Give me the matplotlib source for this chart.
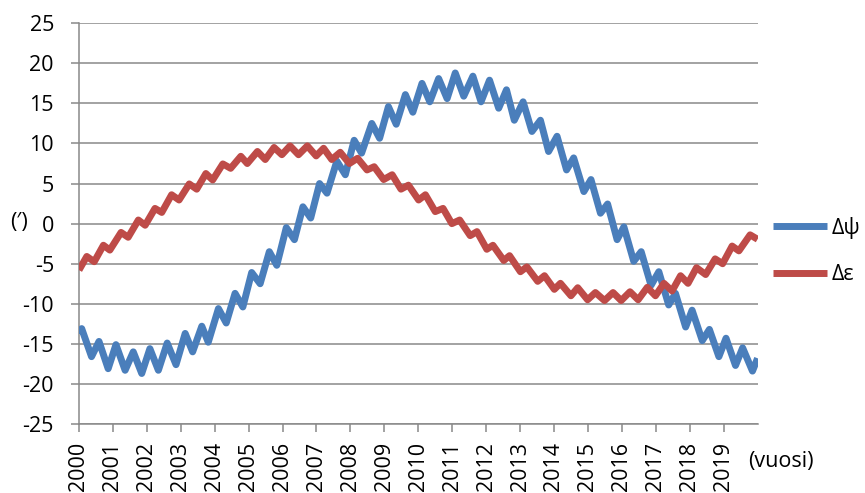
import matplotlib.pyplot as plt

# nutation in longitude (dpsi) and obliquity (deps), peaks and troughs per half year
psi_years = [2000.00, 2000.08, 2000.37, 2000.59, 2000.86, 2001.09, 2001.36, 2001.60, 2001.85,
             2002.09, 2002.34, 2002.60, 2002.86, 2003.13, 2003.35, 2003.62, 2003.81, 2004.11,
             2004.34, 2004.60, 2004.83, 2005.09, 2005.34, 2005.61, 2005.83, 2006.11, 2006.35,
             2006.60, 2006.83, 2007.09, 2007.31, 2007.60, 2007.85, 2008.11, 2008.33, 2008.63,
             2008.86, 2009.12, 2009.35, 2009.62, 2009.84, 2010.11, 2010.34, 2010.60, 2010.85,
             2011.09, 2011.34, 2011.61, 2011.85, 2012.10, 2012.37, 2012.60, 2012.83, 2013.09,
             2013.35, 2013.60, 2013.84, 2014.09, 2014.37, 2014.58, 2014.88, 2015.09, 2015.37,
             2015.58, 2015.86, 2016.06, 2016.35, 2016.57, 2016.86, 2017.09, 2017.38, 2017.58,
             2017.88, 2018.07, 2018.37, 2018.58, 2018.86, 2019.07, 2019.35, 2019.56, 2019.85,
             2020.00]
psi_values = [-13.7, -13.1, -16.6, -14.7, -18.1, -15.1, -18.3, -16.0, -18.7,
              -15.6, -18.3, -14.9, -17.6, -13.7, -16.0, -12.8, -14.8, -10.6,
              -12.4, -8.7, -10.4, -6.1, -7.5, -3.5, -5.2, -0.5, -2.0,
              2.1, 0.7, 5.0, 3.8, 7.8, 6.1, 10.4, 8.8, 12.5,
              10.65, 14.6, 12.4, 16.1, 13.9, 17.5, 15.2, 18.1, 15.6,
              18.8, 15.9, 18.4, 15.2, 17.9, 14.4, 16.7, 12.9, 15.2,
              11.5, 12.9, 9.0, 10.9, 6.7, 8.2, 4.0, 5.5, 1.3,
              2.45, -2.0, -0.4, -4.7, -3.5, -7.7, -6.0, -10.15, -8.7,
              -12.9, -10.8, -14.6, -13.2, -16.6, -14.3, -17.7, -15.5, -18.4,
              -16.8]

eps_years = [2000.00, 2000.23, 2000.45, 2000.72, 2000.91, 2001.24, 2001.45, 2001.75, 2001.95,
             2002.24, 2002.44, 2002.73, 2002.95, 2003.25, 2003.47, 2003.74, 2003.94, 2004.24,
             2004.47, 2004.77, 2004.96, 2005.26, 2005.49, 2005.75, 2005.98, 2006.22, 2006.47,
             2006.73, 2006.99, 2007.21, 2007.45, 2007.70, 2007.97, 2008.21, 2008.49, 2008.70,
             2008.98, 2009.23, 2009.49, 2009.71, 2010.01, 2010.21, 2010.50, 2010.73, 2010.99,
             2011.22, 2011.53, 2011.73, 2012.02, 2012.20, 2012.52, 2012.69, 2013.01, 2013.20,
             2013.52, 2013.72, 2014.01, 2014.19, 2014.50, 2014.70, 2014.99, 2015.22, 2015.49,
             2015.74, 2015.98, 2016.24, 2016.48, 2016.75, 2016.99, 2017.24, 2017.48, 2017.73,
             2017.95, 2018.20, 2018.47, 2018.75, 2018.97, 2019.25, 2019.45, 2019.78, 2020.00]
eps_values = [-5.8, -4.1, -4.75, -2.7, -3.3, -1.1, -1.7, 0.45, -0.2,
              1.9, 1.4, 3.6, 2.95, 4.95, 4.3, 6.25, 5.45, 7.45,
              6.9, 8.4, 7.5, 9.0, 8.0, 9.5, 8.6, 9.7, 8.6,
              9.7, 8.45, 9.4, 8.0, 8.9, 7.5, 8.15, 6.7, 7.1,
              5.5, 6.1, 4.3, 4.8, 2.95, 3.6, 1.5, 1.9, 0.0,
              0.45, -1.5, -1.0, -3.2, -2.7, -4.6, -4.0, -6.0, -5.4,
              -7.2, -6.5, -8.2, -7.45, -9.0, -8.0, -9.5, -8.6, -9.6,
              -8.6, -9.6, -8.5, -9.5, -7.95, -9.0, -7.45, -8.4, -6.5,
              -7.45, -5.5, -6.35, -4.4, -5.0, -2.8, -3.4, -1.4, -1.95]

year_ticks = list(range(2000, 2020))
value_ticks = list(range(-25, 30, 5))

plt.rcParams['font.family'] = ['Open Sans', 'DejaVu Sans']
grid_col = '#898989'

fig = plt.figure(figsize=(8.65, 4.93), dpi=100)
ax = fig.add_axes([0.0913, 0.140, 0.7845, 0.8128])

ax.plot(psi_years, psi_values, color='#4A7EBB', lw=5, solid_joinstyle='round',
        solid_capstyle='butt', label='Δψ', zorder=3)
ax.plot(eps_years, eps_values, color='#BE4B48', lw=5, solid_joinstyle='round',
        solid_capstyle='butt', label='Δε', zorder=3)

ax.set_xlim(2000, 2020)
ax.set_ylim(-25, 25)
ax.set_xticks(year_ticks)
ax.set_xticklabels([str(y) for y in year_ticks], rotation=90, va='top')
ax.set_yticks(value_ticks)
ax.set_yticklabels([str(v) for v in value_ticks])
ax.tick_params(axis='both', colors=grid_col, labelcolor='black', labelsize=15.5,
               length=6, width=1.1)
ax.tick_params(axis='x', pad=7)
ax.tick_params(axis='y', pad=12)

ax.grid(axis='y', color=grid_col, lw=1.1)
ax.set_axisbelow(True)
for side in ('top', 'right'):
    ax.spines[side].set_visible(False)
for side in ('left', 'bottom'):
    ax.spines[side].set_color(grid_col)
    ax.spines[side].set_linewidth(1.1)

fig.text(10 / 865, 1 - 223 / 493, '(′)', fontsize=15.5, ha='left', va='center')
fig.text(748 / 865, 1 - 461 / 493, '(vuosi)', fontsize=15.5, ha='left', va='center')

fig.legend(loc='center left', bbox_to_anchor=(773 / 865, 1 - 251 / 493), frameon=False,
           fontsize=15.5, handlelength=2.5, handletextpad=0.2, labelspacing=1.2,
           borderpad=0, borderaxespad=0)

fig.savefig('out.png', dpi=100)
